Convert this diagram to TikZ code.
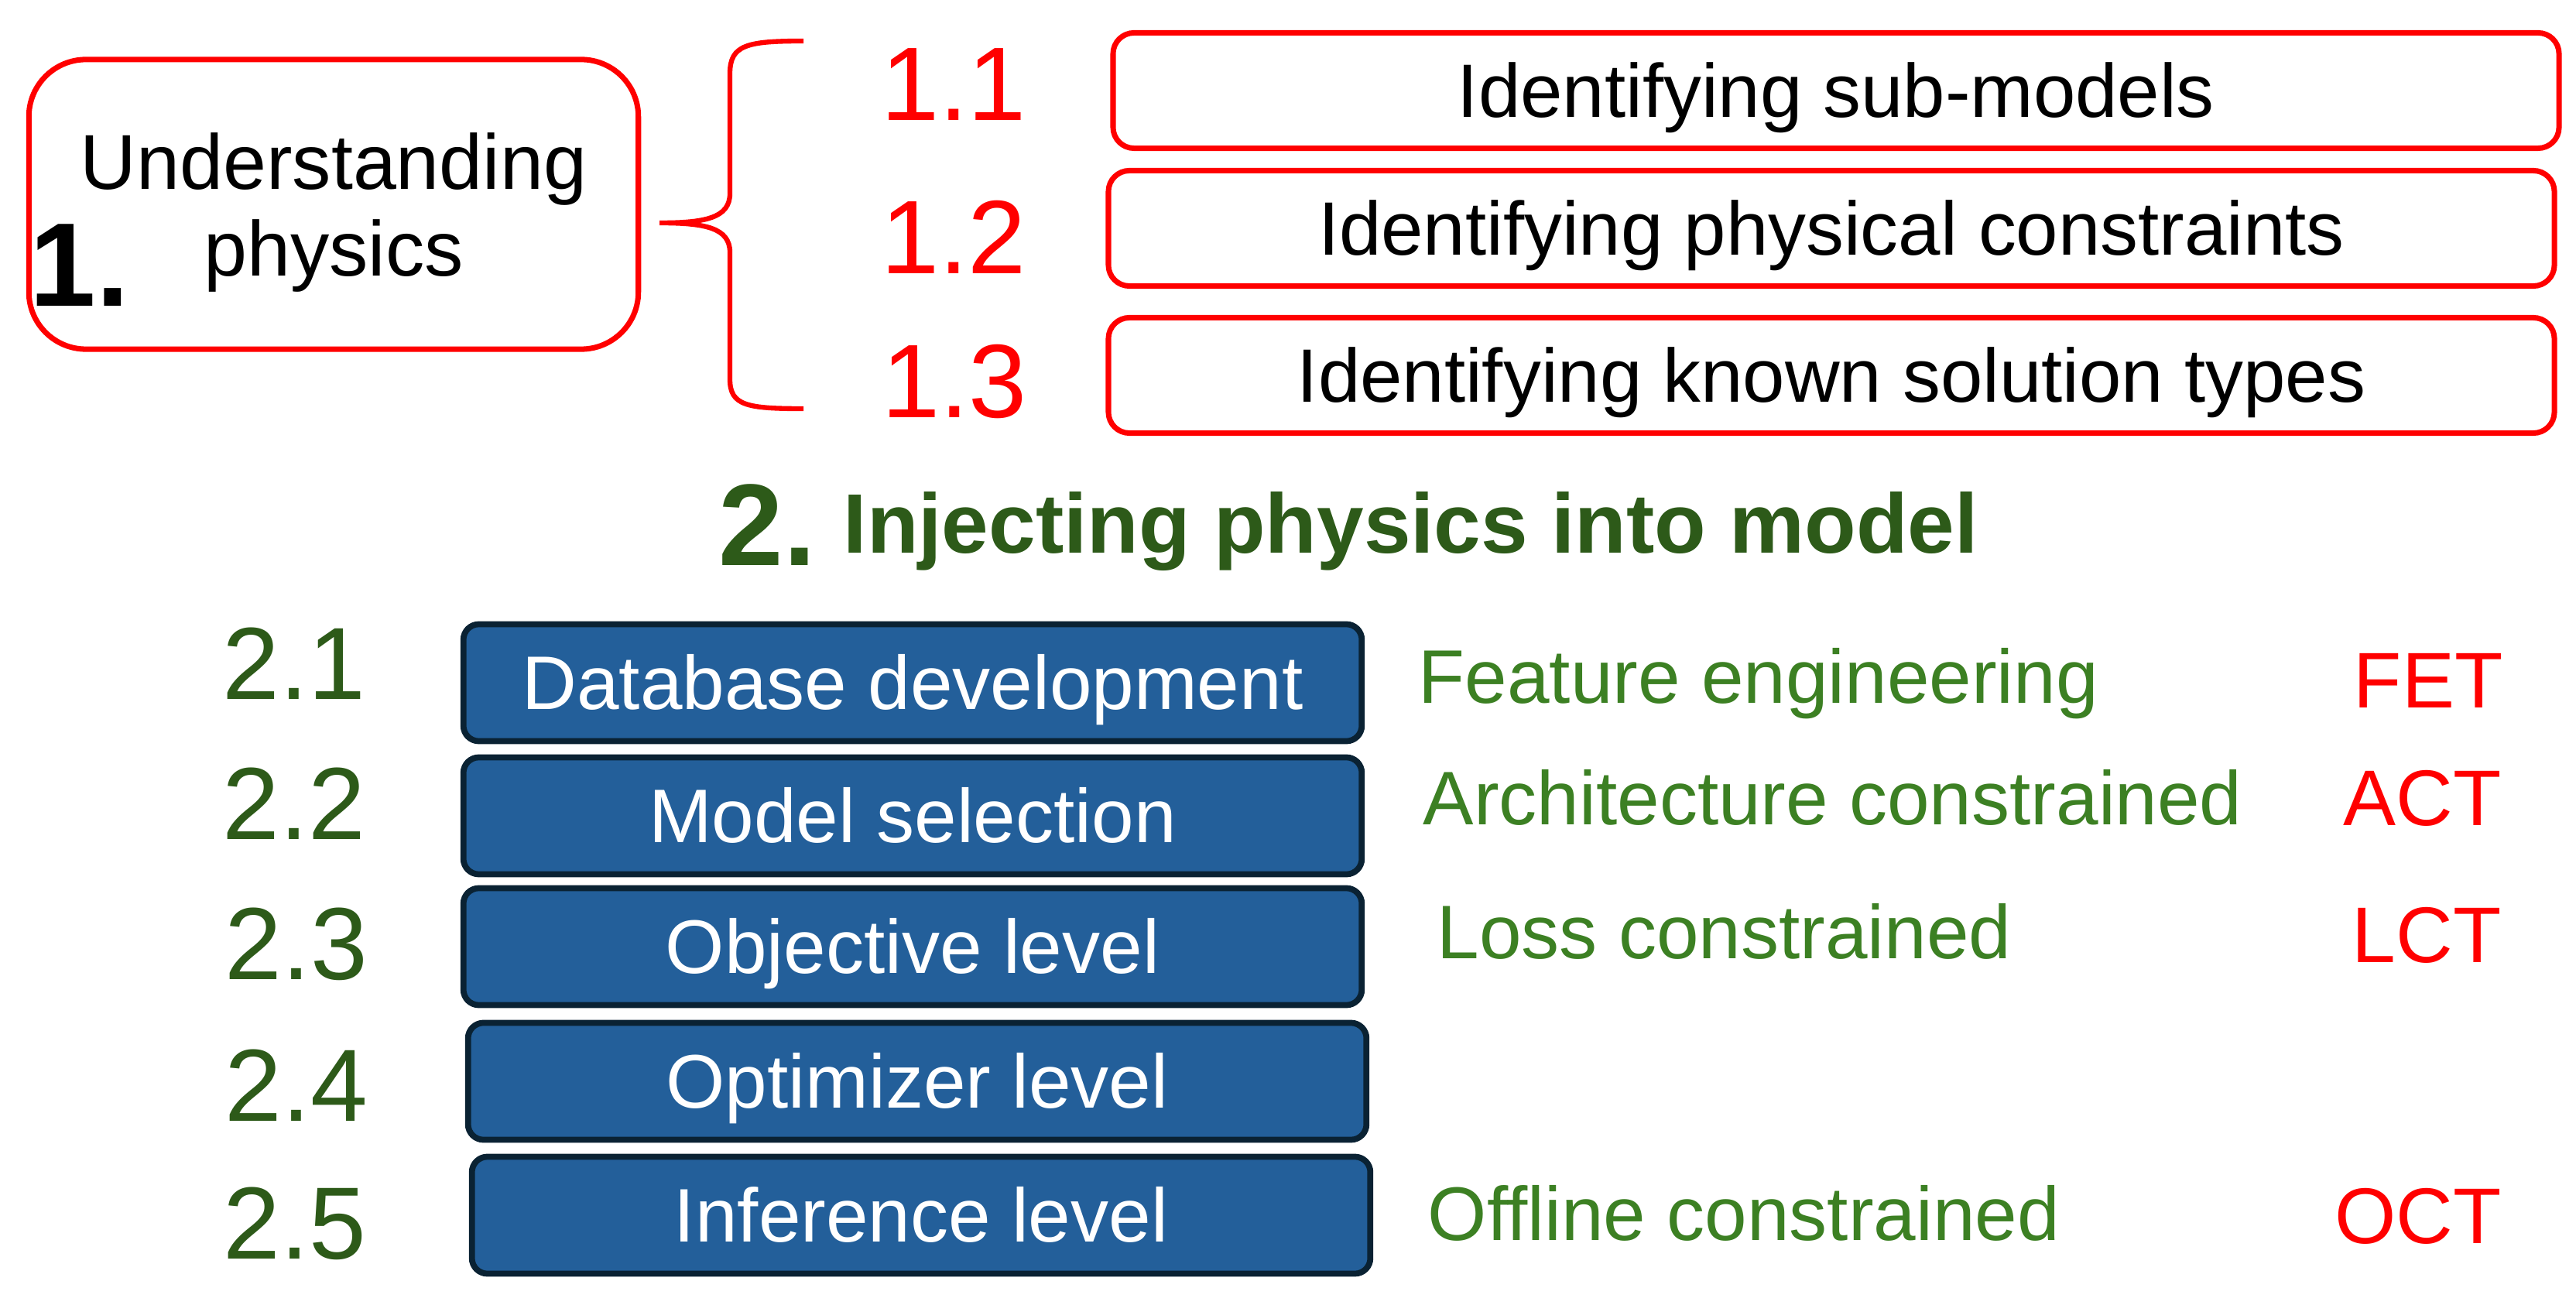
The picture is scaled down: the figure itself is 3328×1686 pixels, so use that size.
\documentclass[tikz,border=0pt]{standalone}
\usepackage{fontspec}
\setmainfont{Liberation Sans}
\definecolor{boxblue}{RGB}{35,95,154}
\definecolor{boxnavy}{RGB}{10,34,51}
\definecolor{darkgreen}{RGB}{45,90,25}
\definecolor{leafgreen}{RGB}{60,128,35}
\begin{document}
\begin{tikzpicture}[x=0.01cm, y=-0.01cm,
  box_red/.style={draw=red, line width=2pt, rounded corners=7.7pt, minimum width=18.67cm, minimum height=1.49cm, text height=19.9pt, text depth=0pt, font=\fontsize{27.8}{33}\selectfont},
  box_blue/.style={draw=boxnavy, fill=boxblue, line width=2.2pt, rounded corners=5.7pt, minimum width=11.6cm, minimum height=1.51cm, text height=19.6pt, text depth=0pt, text=white, font=\fontsize{27.9}{33}\selectfont},
  label_red/.style={anchor=base, inner sep=0pt, text=red, font=\fontsize{38.4}{44}\selectfont},
  label_green/.style={anchor=base, inner sep=0pt, text=darkgreen, font=\fontsize{37.7}{44}\selectfont},
  text_green/.style={anchor=base west, inner sep=0pt, text=leafgreen, font=\fontsize{27.9}{33}\selectfont},
  tag_red/.style={anchor=base east, inner sep=0pt, text=red, font=\fontsize{29}{34}\selectfont}]

\useasboundingbox (0,0) rectangle (3328,1686);

% 1. understanding physics
\node[draw=red, line width=2pt, rounded corners=21pt, minimum width=7.87cm, minimum height=3.74cm, align=center, text depth=0pt, font=\fontsize{28.6}{31.9}\selectfont] (understand) at (431,264) {Understanding\\physics};
\node[anchor=base west, inner sep=0pt, font=\fontsize{43.7}{50}\selectfont\bfseries] (one) at (38,396) {1.};

\coordinate (bracetip) at (852,288);
\draw[red, line width=1.8pt] (1038,53) .. controls (965,53) and (943,58) .. (943,95) -- (943,250)
  .. controls (943,282) and (910,288) .. (bracetip)
  .. controls (910,288) and (943,294) .. (943,326) -- (943,490)
  .. controls (943,524) and (965,528) .. (1038,528);

\node[label_red] (l11) at (1232,156) {1.1};
\node[label_red] (l12) at (1232,354) {1.2};
\node[label_red] (l13) at (1233,540) {1.3};

\node[box_red] (sub) at (2372,117) {Identifying sub-models};
\node[box_red] (constr) at (2366,295) {Identifying physical constraints};
\node[box_red] (known) at (2366,485) {Identifying known solution types};

% 2. injecting physics
\node[anchor=base west, inner sep=0pt, text=darkgreen, font=\fontsize{42.7}{50}\selectfont\bfseries] (two) at (928,731) {2.};
\node[anchor=base west, inner sep=0pt, text=darkgreen, font=\fontsize{31}{36}\selectfont\bfseries] (inject) at (1089,715) {Injecting physics into model};

\node[label_green] (l21) at (380,904) {2.1};
\node[label_green] (l22) at (380,1084) {2.2};
\node[label_green] (l23) at (383,1265) {2.3};
\node[label_green] (l24) at (383,1448) {2.4};
\node[label_green] (l25) at (381,1626) {2.5};

\node[box_blue] (database) at (1179,882) {Database development};
\node[box_blue] (modelsel) at (1179,1054) {Model selection};
\node[box_blue] (objective) at (1179,1223) {Objective level};
\node[box_blue] (optimizer) at (1185,1397) {Optimizer level};
\node[box_blue] (inference) at (1190,1570) {Inference level};

\node[text_green] (feature) at (1832,909) {Feature engineering};
\node[text_green] (architecture) at (1838,1066) {Architecture constrained};
\node[text_green] (loss) at (1856,1238) {Loss constrained};
\node[text_green] (offline) at (1844,1602) {Offline constrained};

\node[tag_red] (fet) at (3234,915) {FET};
\node[tag_red] (act) at (3232,1067) {ACT};
\node[tag_red] (lct) at (3232,1243) {LCT};
\node[tag_red] (oct) at (3232,1606) {OCT};

\end{tikzpicture}
\end{document}
